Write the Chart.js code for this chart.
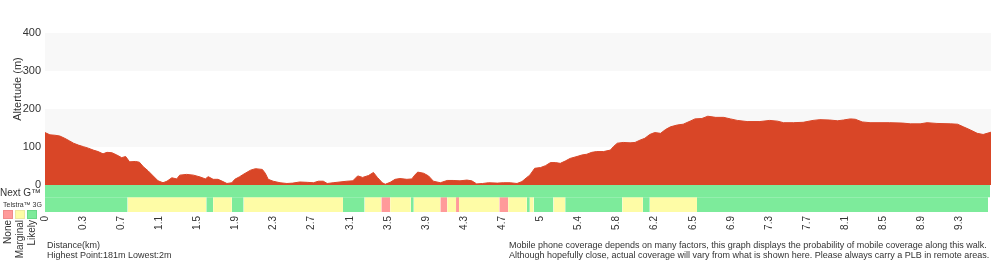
<!DOCTYPE html>
<html>
<head>
<meta charset="utf-8">
<script src="https://cdn.jsdelivr.net/npm/chart.js@4.4.1/dist/chart.umd.min.js"></script>
<style>
  html, body { margin: 0; padding: 0; background: #fff; }
  body { font-family: 'Liberation Sans', Arial, sans-serif; color: #333; }
  #wrap { position: relative; width: 1000px; height: 260px; overflow: hidden; }
  #wrap canvas { position: absolute; left: 0; top: 0; }
  .txt { position: absolute; white-space: nowrap; font-size: 10px; line-height: 10px; }
  .up { transform-origin: 0 0; transform: rotate(-90deg) translateX(-100%); }
  .sw { position: absolute; width: 8px; height: 7px; border: 1px solid; }
  .note { font-size: 9px; line-height: 10px; }
</style>
</head>
<body>
<div id="wrap">
  <canvas id="chart-profile" width="1000" height="260"></canvas>

  <div class="txt up" style="left:11px; top:50px; width:78px; text-align:center; font-size:11px; line-height:12px;">Altertude (m)</div>

  <div class="txt" style="left:0; top:188px; font-size:10px;">Next G™</div>
  <div class="txt" style="left:3px; top:201px; font-size:7px; line-height:7px;">Telstra™ 3G</div>
  <div class="sw" style="left:3px; top:210px; background:#ff9a9a; border-color:#f08a8a;"></div>
  <div class="sw" style="left:15px; top:210px; background:#fefca6; border-color:#eee9a0;"></div>
  <div class="sw" style="left:27px; top:210px; background:#7deb9b; border-color:#6ad88a;"></div>
  <div class="txt up" style="left:3px; top:220px; font-size:10px;">None</div>
  <div class="txt up" style="left:15px; top:220px; font-size:10px;">Marginal</div>
  <div class="txt up" style="left:27px; top:220px; font-size:10px;">Likely</div>

  <div class="txt note" style="left:47px; top:240px;">Distance(km)<br>Highest Point:181m Lowest:2m</div>
  <div class="txt note" style="left:509px; top:240px;">Mobile phone coverage depends on many factors, this graph displays the probability of mobile coverage along this walk.<br>Although hopefully close, actual coverage will vary from what is shown here. Please always carry a PLB in remote areas.</div>
</div>

<script>
// ---- data ----
const distKm = [
  0.00, 0.05, 0.10, 0.15, 0.20, 0.25, 0.29, 0.34, 0.39, 0.44, 0.49, 0.54, 0.59, 0.63, 0.68, 0.73,
  0.78, 0.82, 0.86, 0.92, 0.96, 1.00, 1.05, 1.10, 1.15, 1.20, 1.24, 1.29, 1.34, 1.37, 1.44, 1.51,
  1.58, 1.63, 1.66, 1.71, 1.76, 1.81, 1.85, 1.90, 1.93, 1.98, 2.01, 2.09, 2.14, 2.21, 2.24, 2.27,
  2.32, 2.39, 2.46, 2.52, 2.59, 2.67, 2.73, 2.78, 2.83, 2.87, 2.93, 3.00, 3.07, 3.13, 3.18, 3.23,
  3.29, 3.34, 3.38, 3.43, 3.46, 3.51, 3.56, 3.61, 3.68, 3.73, 3.76, 3.79, 3.85, 3.90, 3.95, 4.02,
  4.09, 4.15, 4.22, 4.29, 4.34, 4.39, 4.45, 4.51, 4.60, 4.66, 4.73, 4.80, 4.85, 4.90, 4.93, 4.98,
  5.04, 5.09, 5.14, 5.19, 5.24, 5.29, 5.34, 5.41, 5.46, 5.51, 5.56, 5.61, 5.68, 5.75, 5.78, 5.82,
  5.88, 5.95, 6.00, 6.05, 6.10, 6.15, 6.20, 6.26, 6.31, 6.36, 6.43, 6.49, 6.56, 6.61, 6.68, 6.74,
  6.82, 6.90, 6.97, 7.04, 7.14, 7.27, 7.37, 7.45, 7.51, 7.61, 7.71, 7.81, 7.88, 7.98, 8.06, 8.12,
  8.19, 8.24, 8.31, 8.39, 8.59, 8.72, 8.80, 8.90, 8.97, 9.07, 9.21, 9.28, 9.34, 9.41, 9.48, 9.54,
  9.58, 9.62
];
const elevM = [
  138, 132, 131, 129, 123, 116, 110, 105, 101, 97, 92, 88, 82, 86, 85, 79,
  72, 75, 61, 62, 60, 48, 37, 24, 11, 6, 10, 19, 16, 26, 28, 26,
  21, 16, 22, 15, 15, 9, 4, 6, 15, 22, 27, 39, 43, 41, 31, 15,
  10, 6, 4, 5, 8, 7, 6, 10, 10, 4, 6, 8, 10, 11, 24, 20,
  25, 33, 20, 6, 2, 7, 15, 17, 15, 16, 26, 34, 31, 24, 10, 6,
  12, 12, 11, 13, 11, 3, 4, 6, 5, 6, 6, 4, 9, 20, 26, 44,
  46, 51, 59, 59, 57, 63, 70, 75, 79, 81, 86, 88, 88, 92, 101, 110,
  112, 111, 112, 118, 123, 133, 138, 136, 146, 153, 158, 160, 168, 174, 175, 181,
  178, 178, 174, 170, 167, 167, 170, 168, 164, 164, 165, 170, 172, 171, 169, 171,
  174, 173, 166, 164, 164, 163, 161, 161, 164, 162, 161, 160, 153, 145, 136, 133,
  136, 139
];

// x tick labels as printed under the chart (one every tickStep km)
const tickLabels = ['0', '0.3', '0.7', '1.1', '1.5', '1.9', '2.3', '2.7', '3.1', '3.5', '3.9', '4.3', '4.7',
  '5', '5.4', '5.8', '6.2', '6.5', '6.9', '7.3', '7.7', '8.1', '8.5', '8.9', '9.3'];
const yTicks = [0, 100, 200, 300, 400];

// coverage: segment break points (km) and the level of each segment
const nextGBreaks = [0, 9.61];
const nextGLevels = ['likely'];
const threeGBreaks = [0, 0.84, 1.64, 1.71, 1.90, 2.02, 3.03, 3.25, 3.42, 3.51, 3.72, 3.75, 4.02, 4.09,
  4.18, 4.21, 4.62, 4.71, 4.90, 4.93, 4.97, 5.17, 5.29, 5.87, 6.08, 6.15, 6.63, 9.59];
const threeGLevels = ['likely', 'marginal', 'likely', 'marginal', 'likely', 'marginal', 'likely', 'marginal',
  'none', 'marginal', 'likely', 'marginal', 'none', 'marginal', 'none', 'marginal', 'none', 'marginal',
  'likely', 'marginal', 'likely', 'marginal', 'likely', 'marginal', 'likely', 'marginal', 'likely'];

// ---- layout / styling constants ----
const tickStep = 0.3875;   // km between labelled ticks
const xMax = 9.62;
const yMin = -71;
const nextGRow = [0, -32];   // metres band used for each coverage row
const threeGRow = [-32, -71];

const levelColors = { none: '#ff9a9a', marginal: '#fefca6', likely: '#7deb9b' };
const font = { family: "'Liberation Sans', Arial, sans-serif", size: 10 };

function bandDataset(top, bottom, color, xFrom, xTo, order) {
  return {
    data: [{ x: xFrom, y: top }, { x: xTo, y: top }],
    fill: { value: bottom },
    backgroundColor: color,
    borderWidth: 0,
    pointRadius: 0,
    order: order
  };
}

function coverageDatasets(breaks, levels, row) {
  return levels.map((lvl, i) =>
    bandDataset(row[0], row[1], levelColors[lvl], breaks[i], breaks[i + 1], 2));
}

const datasets = [
  // alternating background bands
  bandDataset(400, 300, '#f8f8f8', 0, xMax, 5),
  bandDataset(200, 100, '#f8f8f8', 0, xMax, 5),
  {
    label: 'Altitude',
    data: distKm.map((d, i) => ({ x: d, y: elevM[i] })),
    fill: 'origin',
    backgroundColor: '#d94627',
    borderColor: '#d94627',
    borderWidth: 1,
    pointRadius: 0,
    tension: 0,
    order: 1
  },
  ...coverageDatasets(nextGBreaks, nextGLevels, nextGRow),
  ...coverageDatasets(threeGBreaks, threeGLevels, threeGRow)
];

new Chart(document.getElementById('chart-profile'), {
  type: 'line',
  data: { datasets },
  options: {
    responsive: false,
    animation: false,
    events: [],
    layout: { padding: { top: 33, right: 9, left: 0, bottom: 0 } },
    plugins: { legend: { display: false }, tooltip: { enabled: false } },
    scales: {
      x: {
        type: 'linear',
        min: 0,
        max: xMax,
        grid: { display: false, drawTicks: false },
        border: { display: false },
        afterBuildTicks: scale => {
          scale.ticks = tickLabels.map((_, i) => ({ value: i * tickStep }));
        },
        afterFit: scale => { scale.height = 48; },
        ticks: {
          autoSkip: false,
          minRotation: 90,
          maxRotation: 90,
          padding: 4,
          color: '#333',
          font: font,
          callback: (value, index) => tickLabels[index]
        }
      },
      y: {
        min: yMin,
        max: 400,
        grid: { display: false, drawTicks: false },
        border: { display: false },
        afterBuildTicks: scale => {
          scale.ticks = yTicks.map(v => ({ value: v }));
        },
        afterFit: scale => { scale.width = 45; },
        ticks: {
          padding: 4,
          color: '#333',
          font: { family: font.family, size: 11 }
        }
      }
    }
  }
});
</script>
</body>
</html>
